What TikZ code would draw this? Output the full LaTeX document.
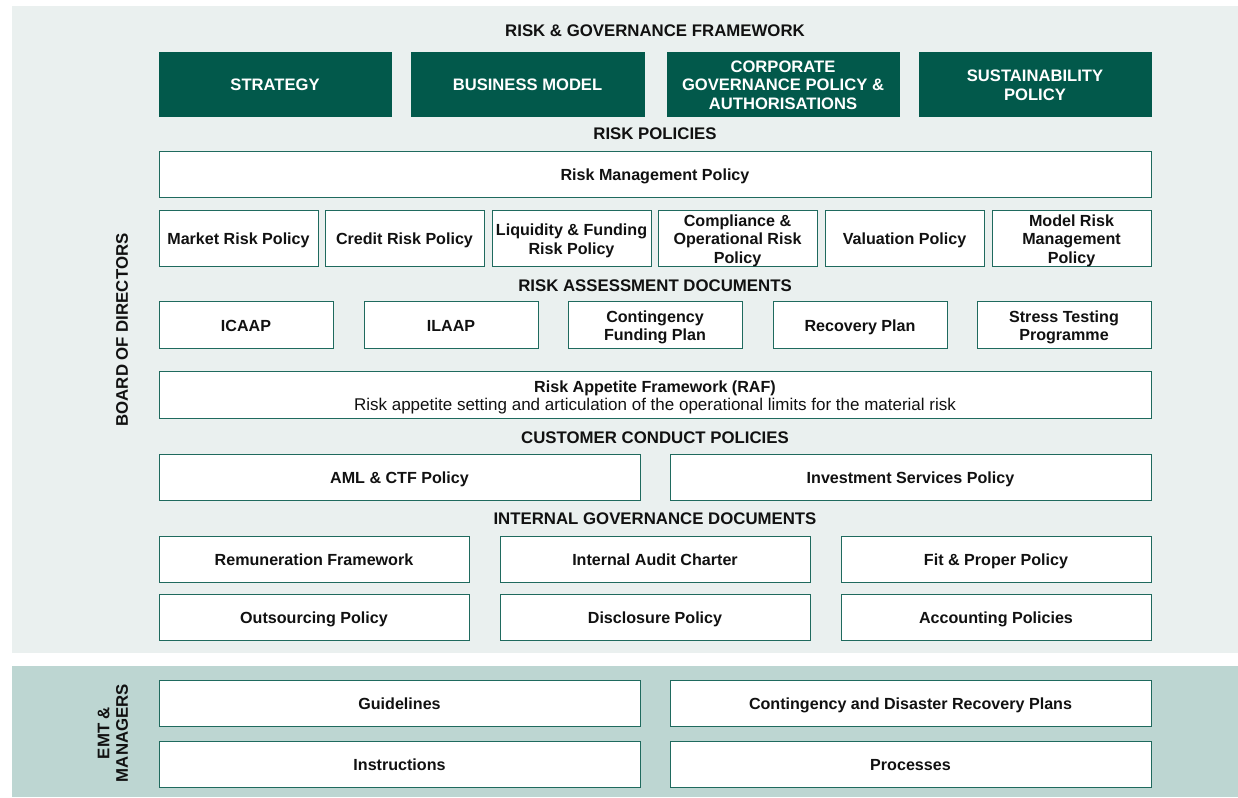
\documentclass[tikz,border=0pt]{standalone}
\usepackage{fontspec}
\setmainfont{Liberation Sans}
\definecolor{panelA}{HTML}{EAF0EF}
\definecolor{panelB}{HTML}{BDD6D2}
\definecolor{dgreen}{HTML}{02594B}
\definecolor{boxline}{HTML}{1F6A5E}
\definecolor{ink}{HTML}{111111}
\tikzset{
  box/.style={draw=boxline, line width=0.9pt, fill=white, inner sep=0pt},
  gbox/.style={box, draw=dgreen, fill=dgreen},
  boxtext/.style={text=ink, font=\bfseries\fontsize{16.1}{18.5}\selectfont, align=center, inner sep=0pt},
  gtext/.style={boxtext, text=white, font=\bfseries\fontsize{16.6}{18.5}\selectfont},
  head/.style={text=ink, font=\bfseries\fontsize{16.8}{18.5}\selectfont, inner sep=0pt, align=center},
}
\newcommand\bx[8][]{%
  \pgfmathsetmacro\cx{(#4+#6)/2}\pgfmathsetmacro\cy{(#5+#7)/2}%
  \pgfmathsetmacro\ww{#6-#4}\pgfmathsetmacro\hh{#7-#5}%
  \node[box,#1,minimum width=\ww pt,minimum height=\hh pt] (#3) at (\cx,\cy) {};
  \node[#2] (#3t) at ([yshift=-2.8pt]#3.center) {\vphantom{Ay}#8\vphantom{Ay}};}
\begin{document}
\begin{tikzpicture}[x=1pt,y=-1pt]
\useasboundingbox (0,0) rectangle (1238,797);
\fill[panelA] (12,6) rectangle (1238,653);
\fill[panelB] (12,666) rectangle (1238,797);

\node[head] (t1) at (655,31) {RISK \& GOVERNANCE FRAMEWORK};
\bx[gbox]{gtext}{g1}{159}{52}{391}{116}{STRATEGY}
\bx[gbox]{gtext}{g2}{411}{52}{644}{116}{BUSINESS MODEL}
\bx[gbox]{gtext}{g3}{667}{52}{899}{116}{CORPORATE\\GOVERNANCE POLICY \&\\AUTHORISATIONS}
\bx[gbox]{gtext}{g4}{919}{52}{1151}{116}{SUSTAINABILITY\\POLICY}

\node[head] (t2) at (655,134) {RISK POLICIES};
\bx{boxtext}{rmp}{159}{151}{1151}{197}{Risk Management Policy}
\bx{boxtext}{p1}{159}{210}{318}{266}{Market Risk Policy}
\bx{boxtext}{p2}{325}{210}{484}{266}{Credit Risk Policy}
\bx{boxtext}{p3}{492}{210}{651}{266}{Liquidity \& Funding\\Risk Policy}
\bx{boxtext}{p4}{658}{210}{817}{266}{Compliance \&\\Operational Risk\\Policy}
\bx{boxtext}{p5}{825}{210}{984}{266}{Valuation Policy}
\bx{boxtext}{p6}{992}{210}{1151}{266}{Model Risk\\Management\\Policy}

\node[head] (t3) at (655,286) {RISK ASSESSMENT DOCUMENTS};
\bx{boxtext}{a1}{159}{301}{333}{348}{ICAAP}
\bx{boxtext}{a2}{364}{301}{538}{348}{ILAAP}
\bx{boxtext}{a3}{568}{301}{742}{348}{Contingency\\Funding Plan}
\bx{boxtext}{a4}{773}{301}{947}{348}{Recovery Plan}
\bx{boxtext}{a5}{977}{301}{1151}{348}{Stress Testing\\Programme}

\bx{boxtext}{raf}{159}{371}{1151}{418}{Risk Appetite Framework (RAF)\\{\mdseries\fontsize{17}{18.5}\selectfont Risk appetite setting and articulation of the operational limits for the material risk}}

\node[head] (t4) at (655,438) {CUSTOMER CONDUCT POLICIES};
\bx{boxtext}{c1}{159}{454}{640}{500}{AML \& CTF Policy}
\bx{boxtext}{c2}{670}{454}{1151}{500}{Investment Services Policy}

\node[head] (t5) at (655,519) {INTERNAL GOVERNANCE DOCUMENTS};
\bx{boxtext}{i1}{159}{536}{469}{582}{Remuneration Framework}
\bx{boxtext}{i2}{500}{536}{810}{582}{Internal Audit Charter}
\bx{boxtext}{i3}{841}{536}{1151}{582}{Fit \& Proper Policy}
\bx{boxtext}{i4}{159}{594}{469}{640}{Outsourcing Policy}
\bx{boxtext}{i5}{500}{594}{810}{640}{Disclosure Policy}
\bx{boxtext}{i6}{841}{594}{1151}{640}{Accounting Policies}

\bx{boxtext}{e1}{159}{680}{640}{726}{Guidelines}
\bx{boxtext}{e2}{670}{680}{1151}{726}{Contingency and Disaster Recovery Plans}
\bx{boxtext}{e3}{159}{741}{640}{787}{Instructions}
\bx{boxtext}{e4}{670}{741}{1151}{787}{Processes}

\node[head, rotate=90] (bod) at (122,330) {BOARD OF DIRECTORS};
\node[head, rotate=90] (emt) at (113,733) {EMT \&\\MANAGERS};
\end{tikzpicture}
\end{document}
